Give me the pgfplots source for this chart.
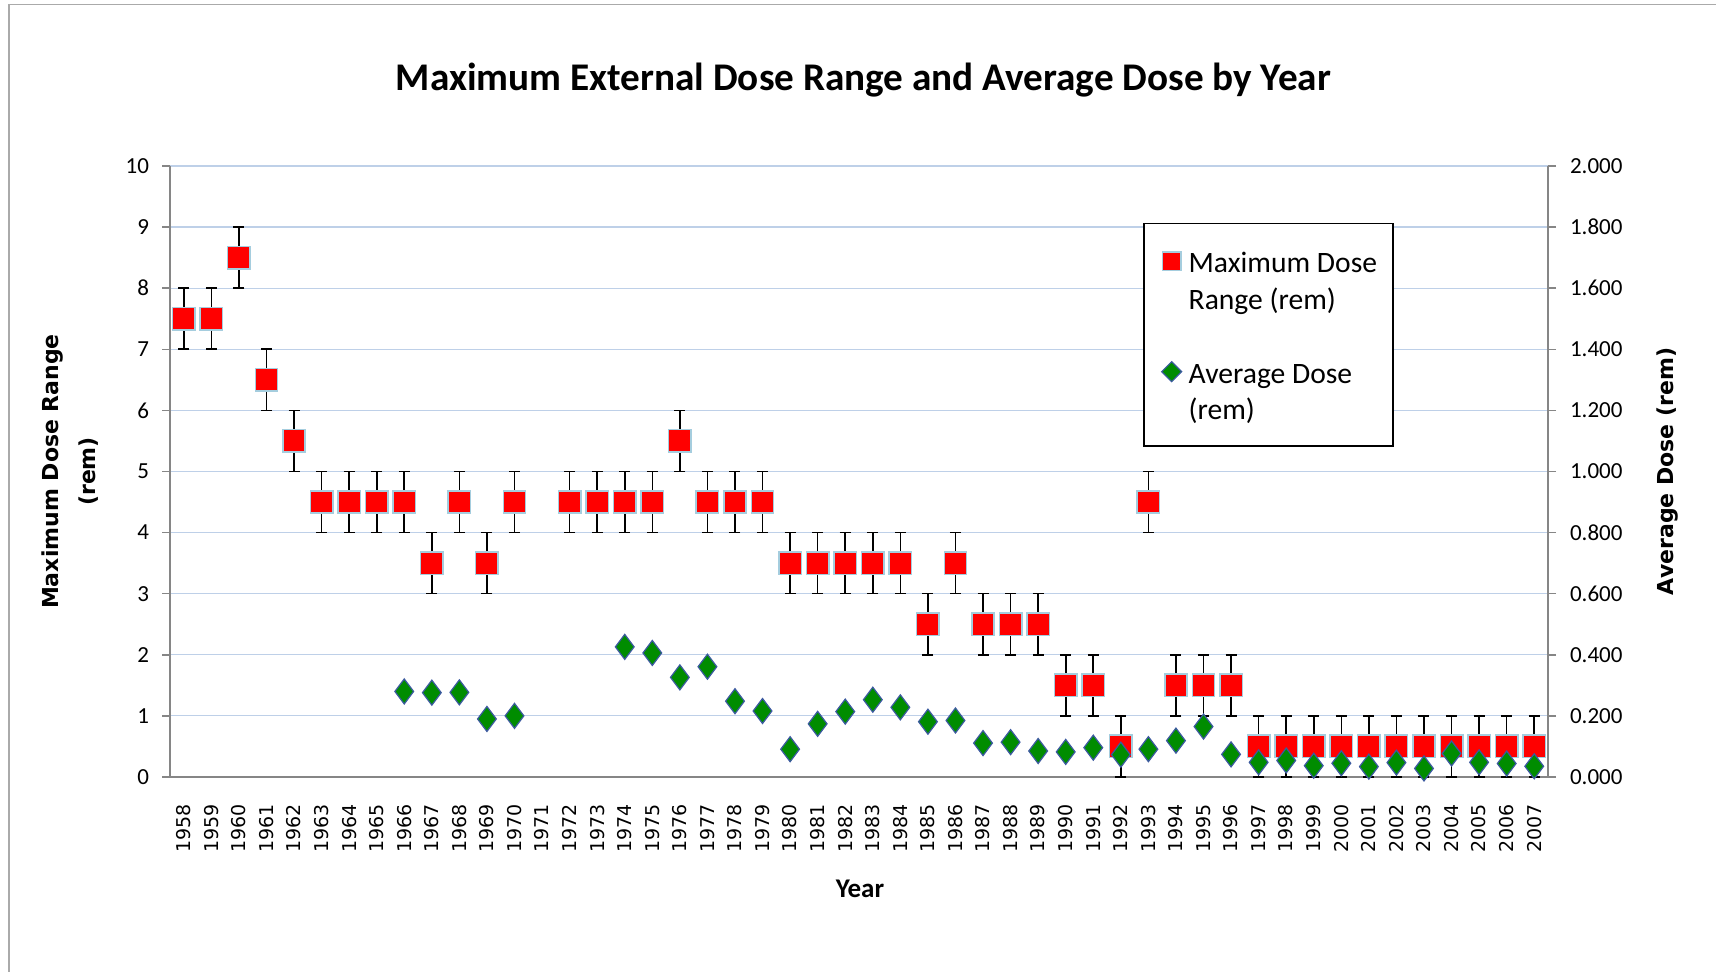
\documentclass[border=0pt]{standalone}
\usepackage{fontspec}
\setmainfont{Carlito}
\newfontfamily\dejavu{DejaVu Sans}
\usepackage{pgfplots}
\usepackage{pgfplotstable}
\pgfplotsset{compat=1.18}
\definecolor{gridblue}{RGB}{190,208,232}
\definecolor{axisgray}{RGB}{134,134,134}
\definecolor{sqborder}{RGB}{165,205,222}
\definecolor{dgreen}{RGB}{0,140,0}
\definecolor{dmborder}{RGB}{60,90,160}
\definecolor{framegray}{RGB}{170,170,170}
\newcommand\lstrut{\rule[-5.5pt]{0pt}{18.5pt}}

\pgfplotstableread{
year mid err
1958 7.5 0.5
1959 7.5 0.5
1960 8.5 0.5
1961 6.5 0.5
1962 5.5 0.5
1963 4.5 0.5
1964 4.5 0.5
1965 4.5 0.5
1966 4.5 0.5
1967 3.5 0.5
1968 4.5 0.5
1969 3.5 0.5
1970 4.5 0.5
1972 4.5 0.5
1973 4.5 0.5
1974 4.5 0.5
1975 4.5 0.5
1976 5.5 0.5
1977 4.5 0.5
1978 4.5 0.5
1979 4.5 0.5
1980 3.5 0.5
1981 3.5 0.5
1982 3.5 0.5
1983 3.5 0.5
1984 3.5 0.5
1985 2.5 0.5
1986 3.5 0.5
1987 2.5 0.5
1988 2.5 0.5
1989 2.5 0.5
1990 1.5 0.5
1991 1.5 0.5
1992 0.5 0.5
1993 4.5 0.5
1994 1.5 0.5
1995 1.5 0.5
1996 1.5 0.5
1997 0.5 0.5
1998 0.5 0.5
1999 0.5 0.5
2000 0.5 0.5
2001 0.5 0.5
2002 0.5 0.5
2003 0.5 0.5
2004 0.5 0.5
2005 0.5 0.5
2006 0.5 0.5
2007 0.5 0.5
}\maxdose

\pgfplotstableread{
year avg
1966 0.280
1967 0.276
1968 0.277
1969 0.190
1970 0.200
1974 0.426
1975 0.406
1976 0.326
1977 0.361
1978 0.248
1979 0.216
1980 0.091
1981 0.174
1982 0.214
1983 0.253
1984 0.228
1985 0.181
1986 0.185
1987 0.111
1988 0.114
1989 0.085
1990 0.082
1991 0.096
1992 0.073
1993 0.091
1994 0.119
1995 0.165
1996 0.074
1997 0.048
1998 0.054
1999 0.037
2000 0.045
2001 0.034
2002 0.047
2003 0.028
2004 0.077
2005 0.048
2006 0.044
2007 0.035
}\avgdose

\begin{document}
\begin{tikzpicture}
\useasboundingbox (0pt,0pt) rectangle (858pt,486pt);
\draw[framegray, line width=0.7pt] (4.5pt,0pt) -- (4.5pt,483.8pt) -- (858pt,483.8pt);
\begin{axis}[
  at={(85pt,97.5pt)}, anchor=south west, scale only axis,
  width=689pt, height=305.5pt,
  xmin=1957.5, xmax=2007.5, ymin=0, ymax=10,
  axis lines*=left,
  axis line style={axisgray, line width=0.75pt},
  xtick={1958,...,2007}, ytick={0,1,...,10},
  ymajorgrids, grid style={gridblue, line width=0.6pt},
  tick align=outside, major tick length=4pt,
  ytick style={axisgray, line width=0.75pt},
  xtick style={draw=none},
  /pgf/number format/assume math mode=true,
  /pgf/number format/1000 sep={},
  xticklabel style={font=\dejavu\fontsize{9.5}{10}\selectfont, rotate=90, anchor=east},
  xticklabel shift=6pt,
  yticklabel style={font=\fontsize{11.5}{12}\selectfont},
  yticklabel shift=3pt,
  ylabel={Maximum Dose Range\\(rem)},
  every axis y label/.style={at={(axis description cs:-0.0726,0.5)}, anchor=center, rotate=90, align=center, font=\dejavu\bfseries\fontsize{11}{18.5}\selectfont},
  xlabel={Year},
  every axis x label/.style={at={(axis description cs:0.5007,-0.1833)}, anchor=center, font=\bfseries\fontsize{13.5}{16}\selectfont},
  title={Maximum External Dose Range and Average Dose by Year},
  every axis title/.style={at={(axis description cs:0.5033,1.1408)}, anchor=center, font=\bfseries\fontsize{19.6}{22}\selectfont},
  clip=false,
]
\addplot[only marks, mark=none, black,
  error bars/.cd, y dir=both, y explicit,
  error bar style={black, line width=0.8pt},
  error mark options={black, line width=0.8pt, mark size=2.75pt, rotate=90}]
  table[x=year, y=mid, y error=err] {\maxdose};
\addplot[only marks, mark=square*, mark size=5.6pt,
  mark options={fill=red, draw=sqborder, line width=0.75pt}]
  table[x=year, y=mid] {\maxdose};
\end{axis}
\begin{axis}[
  at={(85pt,97.5pt)}, anchor=south west, scale only axis,
  width=689pt, height=305.5pt,
  xmin=1957.5, xmax=2007.5, ymin=0, ymax=2,
  axis x line=none, axis y line*=right,
  axis line style={axisgray, line width=0.75pt},
  ytick={0,0.2,0.4,0.6,0.8,1,1.2,1.4,1.6,1.8,2},
  tick align=outside, major tick length=4pt,
  ytick style={axisgray, line width=0.75pt},
  yticklabel style={font=\fontsize{11.5}{12}\selectfont,
    /pgf/number format/fixed, /pgf/number format/fixed zerofill,
    /pgf/number format/precision=3, /pgf/number format/assume math mode=true},
  yticklabel shift=3.5pt,
  ylabel={Average Dose (rem)},
  every axis y label/.style={at={(axis description cs:1.0864,0.5)}, anchor=center, rotate=90, font=\dejavu\bfseries\fontsize{11}{14}\selectfont},
  legend style={at={(axis description cs:0.7061,0.9067)}, anchor=north west,
    draw=black, line width=0.75pt, fill=white,
    font=\fontsize{14.8}{18.5}\selectfont, row sep=3.9pt,
    inner xsep=6pt, inner ysep=11.5pt,
    nodes={inner ysep=0pt}},
  legend cell align=left,
  legend image code/.code={\draw[#1] plot coordinates {(0.28cm,0cm)};},
  clip=false,
]
\addlegendimage{only marks, mark=square*, mark size=4.6pt, mark options={fill=red, draw=sqborder, line width=0.75pt}}
\addlegendentry{\lstrut\hspace*{1.5pt}Maximum Dose}
\addlegendimage{empty legend}
\addlegendentry{\lstrut\hspace*{1.5pt}Range (rem)}
\addlegendimage{empty legend}
\addlegendentry{\lstrut}
\addlegendimage{only marks, mark=diamond*, mark size=5pt, mark options={xscale=1.33, fill=dgreen, draw=dmborder, line width=0.6pt}}
\addlegendentry{\lstrut\hspace*{1.5pt}Average Dose}
\addlegendimage{empty legend}
\addlegendentry{\lstrut\hspace*{1.5pt}(rem)}
\addplot[only marks, mark=diamond*, mark size=6.25pt, forget plot,
  mark options={fill=dgreen, draw=dmborder, line width=0.6pt}]
  table[x=year, y=avg] {\avgdose};
\end{axis}
\end{tikzpicture}
\end{document}
